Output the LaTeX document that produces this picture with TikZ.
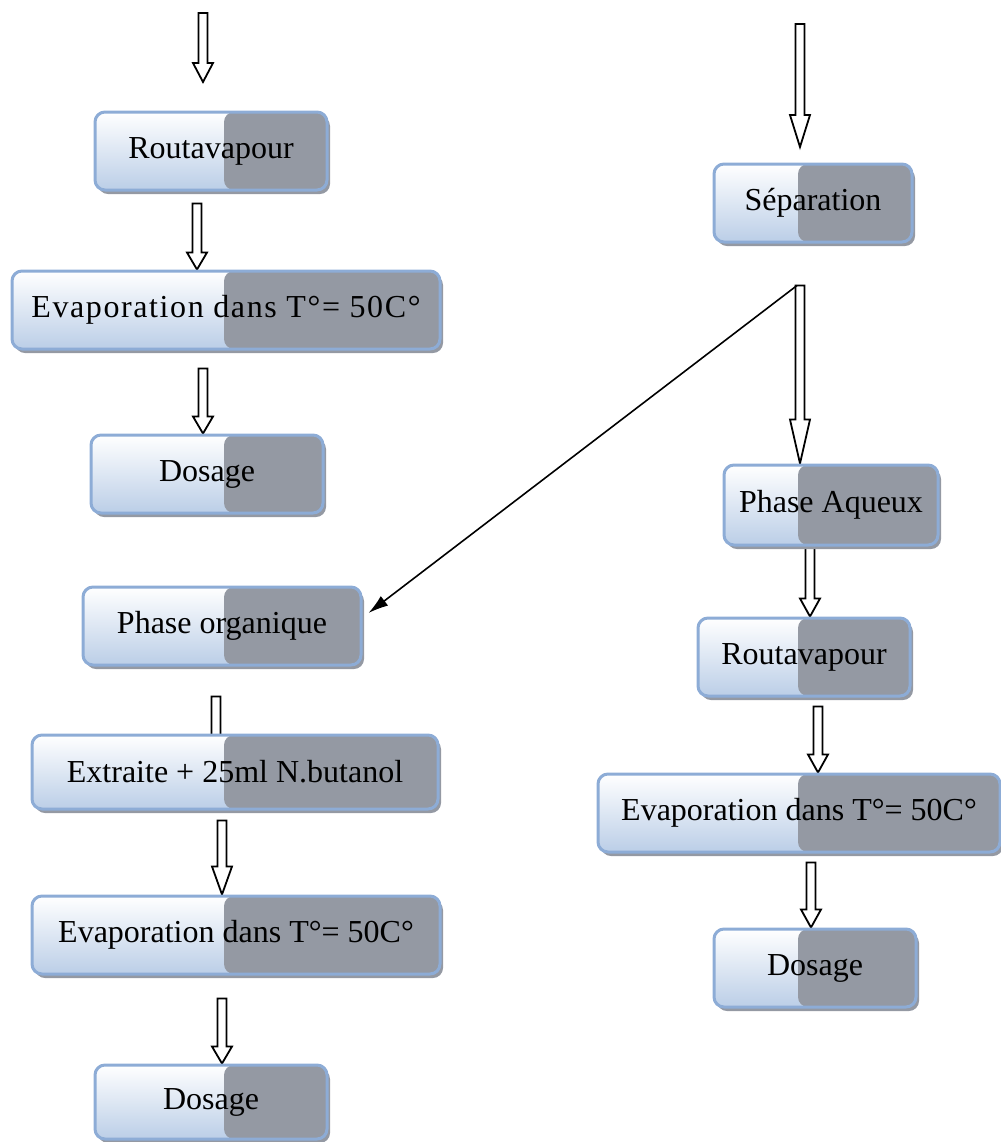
\documentclass[tikz,border=0pt]{standalone}
\usepackage{fontspec}
\setmainfont{Liberation Serif}
\usetikzlibrary{arrows.meta,backgrounds,calc,shadows}
\definecolor{boxblue}{RGB}{141,172,214}
\definecolor{boxfill}{RGB}{187,206,231}
\definecolor{shadegray}{RGB}{148,153,163}
\newcommand\hollowarrow[3][8.5pt]{%
  \draw[hollow] let \p1=(#2), \p2=(#3) in
    (\x1-2.25pt,\y1) -- (\x1-2.25pt,\y2+#1) -- (\x1-5pt,\y2+#1) -- (\x1,\y2)
    -- (\x1+5pt,\y2+#1) -- (\x1+2.25pt,\y2+#1) -- (\x1+2.25pt,\y1) -- cycle;}
\begin{document}
\begin{tikzpicture}[
						x=0.5pt,
						y=-0.5pt,
						stage/.style={
							rectangle,
							rounded corners=5pt,
							draw=boxblue,
							line width=1.5pt,
							top color=white,
							bottom color=boxfill,
							minimum height=39pt,
							inner sep=2pt,
							font=\fontsize{16}{19}\selectfont,
							drop shadow={shadow xshift=1.5pt, shadow yshift=-2pt, fill=shadegray, opacity=1},
							path picture={\fill[shadegray] (path picture bounding box.south west -| #1) rectangle (path picture bounding box.north east);}
						},
						hollow/.style={draw=black, fill=white, line width=0.9pt, line join=miter},
						link/.style={-{Latex[length=10pt,width=6pt]}, line width=0.8pt}
					]
					\useasboundingbox (0,0) rectangle (1001,1142);
					\coordinate (lsplit) at (224,0);
					\coordinate (rsplit) at (798,0);
					\coordinate (lstart) at (203,13);
					\coordinate (lend) at (203,82);
					\coordinate (rstart) at (800,24);
					\coordinate (rend) at (800,147);

					\node[stage=lsplit, minimum width=116pt] (r1) at (211,151) {Routavapour};
					\node[stage=lsplit, minimum width=214pt] (e1) at (226,310) {\addfontfeature{LetterSpace=5}Evaporation dans T°= 50C°};
					\node[stage=lsplit, minimum width=116pt] (d1) at (207,474) {Dosage};
					\node[stage=lsplit, minimum width=139pt] (po) at (222,626) {Phase organique};
					\node[stage=lsplit, minimum width=203pt, minimum height=37pt] (ex) at (235,772) {Extraite + 25ml N.butanol};
					\node[stage=lsplit, minimum width=204pt] (e2) at (236,935) {Evaporation dans T°= 50C°};
					\node[stage=lsplit, minimum width=116pt, minimum height=37pt] (d2) at (211,1102) {Dosage};

					\node[stage=rsplit, minimum width=99pt] (s) at (813,203) {Séparation};
					\node[stage=rsplit, minimum width=107pt, minimum height=40pt] (pa) at (831,505) {Phase Aqueux};
					\node[stage=rsplit, minimum width=106pt] (r2) at (804,657) {Routavapour};
					\node[stage=rsplit, minimum width=201pt] (e3) at (799,813) {Evaporation dans T°= 50C°};
					\node[stage=rsplit, minimum width=101pt] (d3) at (815,968) {Dosage};

					\begin{scope}[on background layer]
						\hollowarrow[9.5pt]{lstart}{lend}
						\hollowarrow{$(r1.south)+(-14,12)$}{e1.north}
						\hollowarrow{$(e1.south)+(-23,18)$}{d1.north}
						\hollowarrow{$(po.south)+(-6,30)$}{$(ex.north)+(0,25)$}
						\hollowarrow[14pt]{$(ex.south)+(-13,10)$}{e2.north}
						\hollowarrow{$(e2.south)+(-14,23)$}{d2.north}
						\hollowarrow[16pt]{rstart}{rend}
						\hollowarrow[22pt]{$(s.south)+(-13,42)$}{pa.north}
						\hollowarrow[9pt]{$(pa.south)+(-21,0)$}{r2.north}
						\hollowarrow[9pt]{$(r2.south)+(14,9)$}{e3.north}
						\hollowarrow[9pt]{$(e3.south)+(12,9)$}{d3.north}
					\end{scope}

					\draw[link] ($(s.south)+(-16,42)$) -- ($(po.east)+(6,-13)$);
				\end{tikzpicture}
\end{document}
